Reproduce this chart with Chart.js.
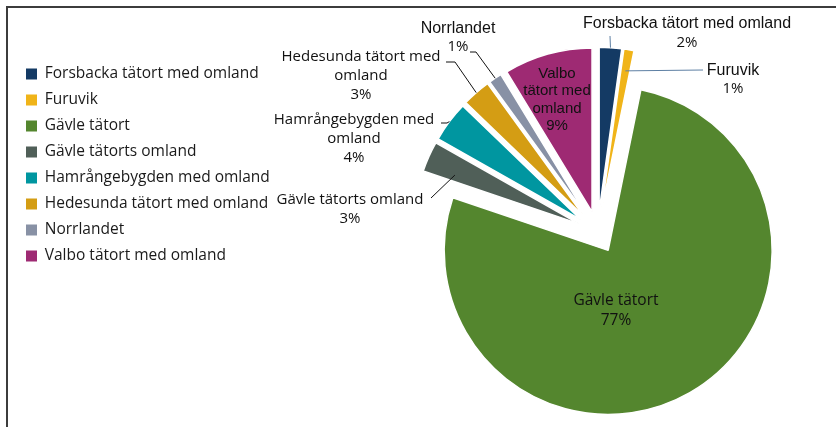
<!DOCTYPE html>
<html>
<head>
<meta charset="utf-8">
<script src="https://cdn.jsdelivr.net/npm/chart.js@4"></script>
<style>
  html, body { margin: 0; padding: 0; background: #fff; }
  .wrap { position: relative; width: 836px; height: 427px; overflow: hidden; }
  .frame { position: absolute; left: 6px; top: 6px; width: 840px; height: 440px;
           border-top: 2px solid #3c3c3c; border-left: 2px solid #3c3c3c; }
  canvas { position: absolute; left: 0; top: 0; }
</style>
</head>
<body>
<div class="wrap">
  <div class="frame"></div>
  <canvas id="areaPie" width="836" height="427"></canvas>
</div>
<script>
// Share of population per area (percent)
const categories = [
    'Forsbacka tätort med omland',
    'Furuvik',
    'Gävle tätort',
    'Gävle tätorts omland',
    'Hamrångebygden med omland',
    'Hedesunda tätort med omland',
    'Norrlandet',
    'Valbo tätort med omland'
];
const shares = [2.2, 1.0, 77.0, 3.0, 4.0, 2.8, 1.3, 8.7];
const pctLabels = ['2%', '1%', '77%', '3%', '4%', '3%', '1%', '9%'];

// How the slice names wrap in the data labels
const labelLines = [
    ['Forsbacka tätort med omland'],
    ['Furuvik'],
    ['Gävle tätort'],
    ['Gävle tätorts omland'],
    ['Hamrångebygden med', 'omland'],
    ['Hedesunda tätort med', 'omland'],
    ['Norrlandet'],
    ['Valbo', 'tätort med', 'omland']
];

const sliceColors = [
    'rgb(20, 58, 100)',   // Forsbacka
    'rgb(240, 180, 25)',  // Furuvik
    'rgb(84, 134, 46)',   // Gävle tätort
    'rgb(80, 95, 88)',    // Gävle tätorts omland
    'rgb(0, 150, 160)',   // Hamrångebygden
    'rgb(212, 157, 20)',  // Hedesunda
    'rgb(136, 145, 165)', // Norrlandet
    'rgb(158, 42, 115)'   // Valbo
];

// Layout of the pie (every slice is pulled out a little)
const pieCenter = { x: 597.7, y: 232.2 };
const explode = 21;
const pieRadius = 164;

const arialFont = '"Liberation Sans", Arial, sans-serif';
const sansFont = '"Open Sans", "Noto Sans", sans-serif';

// Where each data label sits; leader goes from the label to a point in the slice
// (t = position across the slice, r = fraction of the radius)
const labelSpots = [
    { x: 687, y: 24, gap: 19, nameFont: '16px ' + arialFont, pctFont: '15px ' + sansFont,
      leader: [[610, 36]], target: { t: 0.5, r: 1.0 }, leaderColor: '#5d7fa3' },
    { x: 733, y: 71, gap: 18, nameFont: '16px ' + arialFont, pctFont: '15px ' + sansFont,
      leader: [[703, 70]], target: { t: 0.5, r: 0.87 }, leaderColor: '#5d7fa3' },
    { x: 616, y: 301, gap: 20, nameFont: '15.5px ' + sansFont, pctFont: '15.5px ' + sansFont,
      leader: null },
    { x: 350, y: 200, gap: 19, nameFont: '15px ' + sansFont, pctFont: '15px ' + sansFont,
      leader: [[431, 198]], target: { t: 0.25, r: 0.81 }, leaderColor: '#111' },
    { x: 354, y: 120, gap: 19, nameFont: '15px ' + sansFont, pctFont: '15px ' + sansFont,
      leader: [[441, 123], [447, 123]], target: { t: 0.5, r: 1.0 }, leaderColor: '#111' },
    { x: 361, y: 57, gap: 19, nameFont: '15px ' + sansFont, pctFont: '15px ' + sansFont,
      leader: [[446, 62], [455, 62]], target: { t: 0.5, r: 1.0 }, leaderColor: '#111' },
    { x: 458, y: 29, gap: 18, nameFont: '16px ' + arialFont, pctFont: '15px ' + sansFont,
      leader: [[470, 52], [476, 52]], target: { t: 0.5, r: 1.0 }, leaderColor: '#111' },
    { x: 557, y: 74, gap: 17.3, nameFont: '15px ' + arialFont, pctFont: '15px ' + arialFont,
      leader: null }
];

// Draw each arc pulled out along its middle angle, around a fixed centre
const explodePlugin = {
    id: 'explodePie',
    beforeDatasetDraw(chart, args) {
        const ctx = chart.ctx;
        args.meta.data.forEach(arc => {
            const mid = (arc.startAngle + arc.endAngle) / 2;
            ctx.save();
            ctx.translate(pieCenter.x - arc.x + Math.cos(mid) * explode,
                          pieCenter.y - arc.y + Math.sin(mid) * explode);
            arc.draw(ctx);
            ctx.restore();
        });
        return false; // skip the normal drawing
    }
};

// Data labels with leader lines, placed like the original
const labelPlugin = {
    id: 'sliceLabels',
    afterDatasetsDraw(chart) {
        const ctx = chart.ctx;
        const arcs = chart.getDatasetMeta(0).data;
        ctx.save();
        labelSpots.forEach((spot, i) => {
            const arc = arcs[i];
            if (spot.leader) {
                const mid = (arc.startAngle + arc.endAngle) / 2;
                const a = arc.startAngle + spot.target.t * (arc.endAngle - arc.startAngle);
                const r = spot.target.r * arc.outerRadius;
                const tx = pieCenter.x + Math.cos(mid) * explode + Math.cos(a) * r;
                const ty = pieCenter.y + Math.sin(mid) * explode + Math.sin(a) * r;
                ctx.beginPath();
                ctx.moveTo(spot.leader[0][0], spot.leader[0][1]);
                spot.leader.slice(1).forEach(p => ctx.lineTo(p[0], p[1]));
                ctx.lineTo(tx, ty);
                ctx.strokeStyle = spot.leaderColor;
                ctx.lineWidth = 1;
                ctx.stroke();
            }
            ctx.fillStyle = '#111';
            ctx.textAlign = 'center';
            ctx.textBaseline = 'middle';
            const lines = labelLines[i];
            lines.forEach((line, k) => {
                ctx.font = spot.nameFont;
                ctx.fillText(line, spot.x, spot.y + k * spot.gap);
            });
            ctx.font = spot.pctFont;
            ctx.fillText(pctLabels[i], spot.x, spot.y + lines.length * spot.gap);
        });
        ctx.restore();
    }
};

const basePieLabels = Chart.DoughnutController.overrides.plugins.legend.labels.generateLabels;

const ctxPie = document.getElementById('areaPie').getContext('2d');
const areaPie = new Chart(ctxPie, {
    type: 'pie',
    data: {
        labels: categories,
        datasets: [{
            data: shares,
            backgroundColor: sliceColors,
            borderColor: '#ffffff',
            borderWidth: 1.5,
            radius: pieRadius
        }]
    },
    options: {
        responsive: false,
        animation: false,
        layout: {
            padding: { top: 55.75, left: 15.5, right: 0, bottom: 0 }
        },
        plugins: {
            legend: {
                position: 'left',
                align: 'start',
                labels: {
                    boxWidth: 11,
                    boxHeight: 11,
                    padding: 10.5,
                    color: '#1a1a1a',
                    font: { family: sansFont, size: 15.5 },
                    // no white outline on the legend squares
                    generateLabels: chart => basePieLabels(chart).map(item => ({ ...item, lineWidth: 0 }))
                }
            },
            tooltip: { enabled: false }
        }
    },
    plugins: [explodePlugin, labelPlugin]
});
</script>
</body>
</html>
